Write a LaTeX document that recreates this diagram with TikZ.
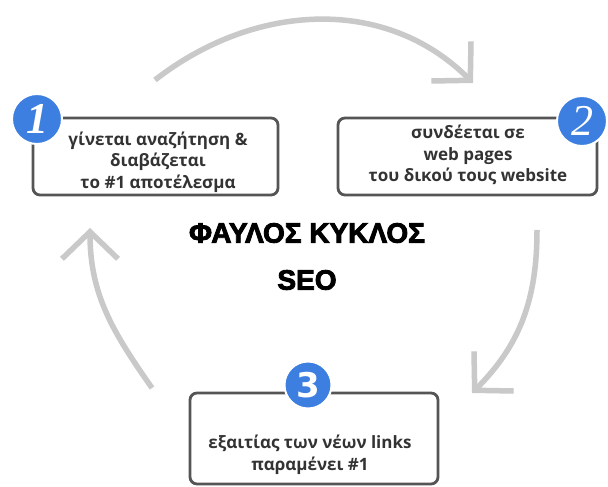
\documentclass[tikz,border=0pt]{standalone}
\usepackage{fontspec}
\setmainfont{Open Sans}
\newfontfamily\titlefont[FakeBold=3]{Liberation Sans}
\newfontfamily\numfont{Liberation Serif}
\newfontfamily\numsans{DejaVu Sans}
\usetikzlibrary{arrows.meta}
\definecolor{arrowgray}{HTML}{C9C9C9}
\definecolor{boxline}{HTML}{555555}
\definecolor{badge}{HTML}{3D7FE0}
\definecolor{ink}{HTML}{333333}
\begin{document}
\begin{tikzpicture}[x=1pt,y=1pt,
  cyclearrow/.style={draw=arrowgray,line width=5.5pt,
    -{Straight Barb[length=27pt,width=56pt,line width=5.5pt]}},
  stepbox/.style={draw=boxline,line width=2.8pt,fill=white,rounded corners=7pt},
  badgecircle/.style={circle,fill=badge,draw=white,line width=2pt,
    minimum size=50pt,inner sep=0pt,text=white},
  boxtext/.style={align=center,text=ink,font=\bfseries\fontsize{17}{21.5}\selectfont},
  titletext/.style={font=\titlefont\bfseries\fontsize{28}{30}\selectfont,text=black}]
\useasboundingbox[fill=white] (0,0) rectangle (608,487);

% curved arrows of the cycle
\coordinate (t1) at (155,407);
\coordinate (t2) at (473,404);
\coordinate (r1) at (537,257);
\coordinate (r2) at (472,94);
\coordinate (l1) at (152,99);
\coordinate (l2) at (90,259);
\draw[cyclearrow] (t1) to[out=38,in=135] (t2);
\draw[cyclearrow] (r1) to[out=-90,in=45] (r2);
\draw[cyclearrow] (l1) to[out=125,in=-90] (l2);

% step boxes
\draw[stepbox] (33,292) rectangle (278,369);
\draw[stepbox] (338,292) rectangle (597,369);
\draw[stepbox] (190,3) rectangle (438,94);

\node[boxtext] (s1) at (158,325) {γίνεται αναζήτηση \&\\διαβάζεται\\το \#1 αποτέλεσμα};
\node[boxtext] (s2) at (468,332) {συνδέεται σε\\web pages\\του δικού τους website};
\node[boxtext] (s3) at (310,32) {εξαιτίας των νέων links\\παραμένει \#1};

% numbered badges
\node[badgecircle,font=\numfont\bfseries\itshape\fontsize{44}{44}\selectfont] (b1) at (37,368) {1};
\node[badgecircle,font=\numfont\itshape\fontsize{44}{44}\selectfont] (b2) at (582,366) {2};
\node[badgecircle,minimum size=47pt,font=\numsans\bfseries\fontsize{34}{34}\selectfont] (b3) at (308,102) {3};

% title
\node[titletext] (title) at (307,254) {ΦΑΥΛΟΣ ΚΥΚΛΟΣ};
\node[titletext] (seo) at (307,207) {SEO};
\end{tikzpicture}
\end{document}
